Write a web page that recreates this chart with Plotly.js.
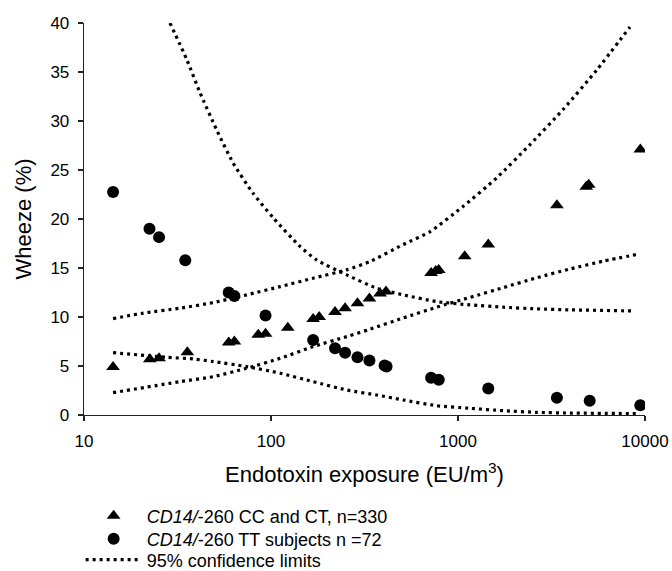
<!DOCTYPE html>
<html>
<head>
<meta charset="utf-8">
<script src="https://cdn.plot.ly/plotly-3.0.1.min.js"></script>
<style>
html, body { margin: 0; padding: 0; background: #ffffff; }
#chart { width: 672px; height: 571px; }
</style>
</head>
<body>
<div id="chart"></div>
<script>
// CD14/-260 CC and CT (triangles)
var ccctX = [14.3, 22.5, 25.2, 35.7, 59.4, 63.7, 85.5, 93.5, 123, 168, 181, 220, 249, 290, 336, 383, 412, 718, 760, 789, 1086, 1452, 3380, 4850, 5000, 9440];
var ccctY = [4.9, 5.7, 5.8, 6.4, 7.4, 7.5, 8.2, 8.3, 8.9, 9.8, 10.0, 10.5, 10.9, 11.4, 11.9, 12.4, 12.6, 14.5, 14.7, 14.8, 16.2, 17.4, 21.4, 23.3, 23.5, 27.1];

// CD14/-260 TT (circles)
var ttX = [14.3, 22.4, 25.2, 34.8, 59.4, 63.7, 93.5, 168, 220, 249, 290, 336, 405, 415, 718, 789, 1452, 3380, 5060, 9440];
var ttY = [22.75, 19.0, 18.15, 15.8, 12.5, 12.15, 10.15, 7.65, 6.8, 6.35, 5.9, 5.55, 5.05, 4.95, 3.8, 3.6, 2.7, 1.75, 1.45, 1.0];

// 95% confidence limits, CC/CT upper
var ciUpper1X = [14.3, 20.8, 32.6, 49.1, 74.1, 112, 168, 254, 338, 510, 708, 1067, 1610, 2427, 3656, 5517, 8318];
var ciUpper1Y = [9.84, 10.4, 10.9, 11.47, 12.26, 13.1, 13.96, 14.81, 15.66, 17.4, 18.7, 21.3, 24.2, 27.6, 31.2, 35.2, 39.6];
// CC/CT lower
var ciLower1X = [14.3, 32.6, 49.1, 74.1, 112, 168, 254, 338, 510, 769, 1159, 1746, 2636, 3970, 5985, 9400];
var ciLower1Y = [2.28, 3.4, 3.91, 4.77, 5.79, 6.98, 8.0, 8.75, 9.9, 11.0, 12.0, 13.0, 14.0, 14.9, 15.7, 16.44];
// TT upper
var ciUpper2X = [28.8, 35.4, 41.7, 51.2, 62.8, 80.4, 103, 143, 175, 254, 367, 510, 769, 1159, 1746, 2636, 3970, 8650];
var ciUpper2Y = [40.0, 36.3, 32.9, 29.1, 25.7, 22.6, 20.1, 17.2, 15.83, 14.3, 12.94, 12.26, 11.57, 11.24, 11.0, 10.83, 10.73, 10.62];
// TT lower
var ciLower2X = [14.3, 27.7, 38.4, 49.1, 74.1, 112, 168, 254, 367, 510, 769, 1159, 1746, 2636, 3970, 9400];
var ciLower2Y = [6.36, 5.89, 5.72, 5.45, 4.94, 4.26, 3.4, 2.55, 2.04, 1.53, 0.95, 0.68, 0.44, 0.27, 0.2, 0.14];

var names = {
  ccct: '<i>CD14/</i>-260 CC and CT, n=330',
  tt: '<i>CD14/</i>-260 TT subjects n =72',
  ci: '95% confidence limits'
};
var xTicks = [10, 100, 1000, 10000];
var xTickText = ['10', '100', '1000', '10000'];
var yTicks = [0, 5, 10, 15, 20, 25, 30, 35, 40];

var dotLine = {color: '#000000', width: 3.2, dash: '3px,4px', shape: 'spline', smoothing: 0.6};

function ciTrace(x, y, show) {
  return {x: x, y: y, type: 'scatter', mode: 'lines', line: dotLine, legend: 'legend3',
          name: names.ci, showlegend: show, legendgroup: 'ci', hoverinfo: 'skip'};
}

var data = [
  ciTrace(ciUpper1X, ciUpper1Y, true),
  ciTrace(ciLower1X, ciLower1Y, false),
  ciTrace(ciUpper2X, ciUpper2Y, false),
  ciTrace(ciLower2X, ciLower2Y, false),
  {x: ccctX, y: ccctY, type: 'scatter', mode: 'markers', name: names.ccct, legend: 'legend',
   marker: {symbol: 'triangle-up', size: 12, color: '#000000'}},
  {x: ttX, y: ttY, type: 'scatter', mode: 'markers', name: names.tt, legend: 'legend2',
   marker: {symbol: 'circle', size: 12, color: '#000000'}}
];

var font = 'Liberation Sans, Arial, Helvetica, sans-serif';
function legendAt(yc) {
  return {x: -0.006, xanchor: 'left', xref: 'paper', y: yc, yanchor: 'middle', yref: 'container',
          font: {family: font, size: 18, color: '#000000'},
          bgcolor: 'rgba(0,0,0,0)', borderwidth: 0, tracegroupgap: 0, itemwidth: 56};
}
var layout = {
  width: 672, height: 571,
  margin: {l: 84, r: 27, t: 23, b: 156, autoexpand: false},
  paper_bgcolor: '#ffffff', plot_bgcolor: '#ffffff',
  font: {family: font, size: 17, color: '#000000'},
  showlegend: true,
  legend: legendAt(0.0963),
  legend2: legendAt(0.0560),
  legend3: legendAt(0.0193),
  xaxis: {
    type: 'log', range: [1, 4], tickvals: xTicks, ticktext: xTickText, automargin: false,
    showgrid: false, zeroline: false, showline: true, linecolor: '#222222', linewidth: 1.3,
    ticks: 'outside', ticklen: 5, tickwidth: 1.3, tickcolor: '#222222', ticklabelstandoff: 5,
    tickfont: {family: font, size: 17, color: '#000000'},
    title: {text: 'Endotoxin exposure (EU/m<sup>3</sup>)', standoff: 17,
            font: {family: font, size: 22, color: '#000000'}}
  },
  yaxis: {
    range: [0, 40], tickvals: yTicks, showgrid: false, zeroline: false, automargin: false,
    showline: true, linecolor: '#222222', linewidth: 1.3,
    ticks: 'outside', ticklen: 5, tickwidth: 1.3, tickcolor: '#222222', ticklabelstandoff: 5,
    tickfont: {family: font, size: 17, color: '#000000'},
    title: {text: 'Wheeze (%)', standoff: 12,
            font: {family: font, size: 22, color: '#000000'}}
  }
};

Plotly.newPlot('chart', data, layout, {displayModeBar: false, staticPlot: true});
</script>
</body>
</html>
